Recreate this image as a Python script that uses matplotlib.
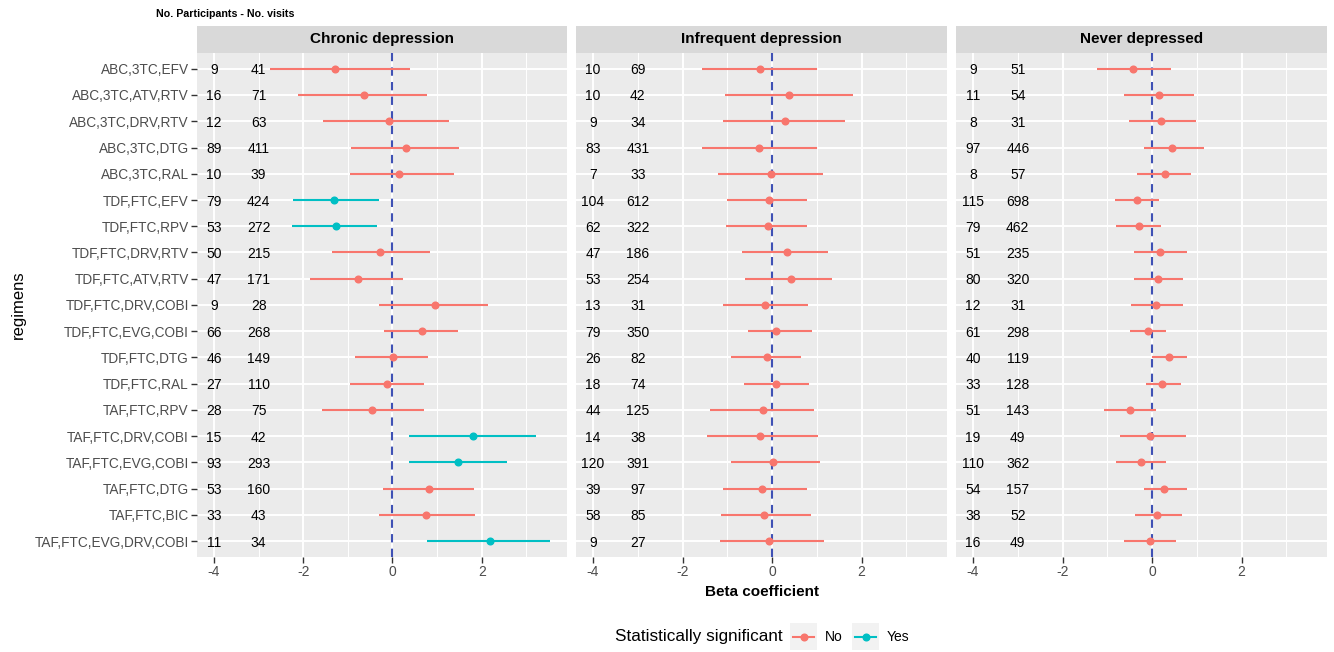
import matplotlib
matplotlib.use("Agg")
import matplotlib.pyplot as plt
from matplotlib.lines import Line2D
from matplotlib.patches import Rectangle
import numpy as np

plt.rcParams['font.family'] = ['Liberation Sans', 'DejaVu Sans']
plt.rcParams['axes.unicode_minus'] = False

regimens = ["ABC,3TC,EFV", "ABC,3TC,ATV,RTV", "ABC,3TC,DRV,RTV", "ABC,3TC,DTG",
            "ABC,3TC,RAL", "TDF,FTC,EFV", "TDF,FTC,RPV", "TDF,FTC,DRV,RTV",
            "TDF,FTC,ATV,RTV", "TDF,FTC,DRV,COBI", "TDF,FTC,EVG,COBI", "TDF,FTC,DTG",
            "TDF,FTC,RAL", "TAF,FTC,RPV", "TAF,FTC,DRV,COBI", "TAF,FTC,EVG,COBI",
            "TAF,FTC,DTG", "TAF,FTC,BIC", "TAF,FTC,EVG,DRV,COBI"]

panels = ["Chronic depression", "Infrequent depression", "Never depressed"]

# Chronic depression
chr_beta = [-1.28, -0.63, -0.07, 0.31, 0.15, -1.31, -1.26, -0.29, -0.78, 0.96,
            0.66, 0.01, -0.13, -0.47, 1.81, 1.46, 0.81, 0.76, 2.19]
chr_lo = [-2.75, -2.11, -1.55, -0.93, -0.95, -2.24, -2.25, -1.36, -1.84, -0.30,
          -0.20, -0.83, -0.96, -1.58, 0.37, 0.36, -0.22, -0.31, 0.77]
chr_hi = [0.40, 0.78, 1.27, 1.49, 1.37, -0.31, -0.34, 0.83, 0.24, 2.13,
          1.46, 0.79, 0.70, 0.70, 3.22, 2.57, 1.82, 1.85, 3.53]
chr_sig = [0, 0, 0, 0, 0, 1, 1, 0, 0, 0, 0, 0, 0, 0, 1, 1, 0, 0, 1]
chr_part = [9, 16, 12, 89, 10, 79, 53, 50, 47, 9, 66, 46, 27, 28, 15, 93, 53, 33, 11]
chr_vis = [41, 71, 63, 411, 39, 424, 272, 215, 171, 28, 268, 149, 110, 75, 42, 293, 160, 43, 34]

# Infrequent depression
inf_beta = [-0.26, 0.38, 0.29, -0.30, -0.02, -0.07, -0.09, 0.34, 0.43, -0.16,
            0.10, -0.12, 0.10, -0.20, -0.27, 0.02, -0.23, -0.18, -0.06]
inf_lo = [-1.56, -1.06, -1.10, -1.57, -1.21, -1.00, -1.03, -0.68, -0.60, -1.09,
          -0.54, -0.92, -0.63, -1.39, -1.46, -0.92, -1.10, -1.13, -1.16]
inf_hi = [1.01, 1.80, 1.63, 1.01, 1.13, 0.78, 0.79, 1.25, 1.33, 0.81,
          0.89, 0.65, 0.82, 0.94, 1.03, 1.08, 0.78, 0.87, 1.16]
inf_sig = [0] * 19
inf_part = [10, 10, 9, 83, 7, 104, 62, 47, 53, 13, 79, 26, 18, 44, 14, 120, 39, 58, 9]
inf_vis = [69, 42, 34, 431, 33, 612, 322, 186, 254, 31, 350, 82, 74, 125, 38, 391, 97, 85, 27]

# Never depressed
nev_beta = [-0.42, 0.16, 0.21, 0.44, 0.28, -0.33, -0.29, 0.18, 0.13, 0.10,
            -0.10, 0.37, 0.23, -0.49, -0.04, -0.25, 0.26, 0.11, -0.05]
nev_lo = [-1.23, -0.62, -0.51, -0.18, -0.33, -0.83, -0.81, -0.40, -0.41, -0.48,
          -0.49, -0.01, -0.14, -1.07, -0.72, -0.80, -0.18, -0.37, -0.62]
nev_hi = [0.43, 0.93, 0.99, 1.16, 0.88, 0.16, 0.20, 0.78, 0.69, 0.69,
          0.31, 0.79, 0.65, 0.09, 0.75, 0.31, 0.78, 0.67, 0.54]
nev_sig = [0] * 19
nev_part = [9, 11, 8, 97, 8, 115, 79, 51, 80, 12, 61, 40, 33, 51, 19, 110, 54, 38, 16]
nev_vis = [51, 54, 31, 446, 57, 698, 462, 235, 320, 31, 298, 119, 128, 143, 49, 362, 157, 52, 49]

x_ticks = [-4, -2, 0, 2]
x_minor = [-3, -1, 1, 3]
part_x = -4
vis_x = -3

data = [
    (chr_beta, chr_lo, chr_hi, chr_sig, chr_part, chr_vis),
    (inf_beta, inf_lo, inf_hi, inf_sig, inf_part, inf_vis),
    (nev_beta, nev_lo, nev_hi, nev_sig, nev_part, nev_vis),
]

COL_NO = "#F8766D"
COL_YES = "#00BFC4"
VLINE = "#3F51B5"
BG = "#EBEBEB"
STRIP = "#D9D9D9"

W, H = 1334, 652
fig = plt.figure(figsize=(W / 100, H / 100), dpi=100)


def box(x0, y0, x1, y1):
    return [x0 / W, 1 - y1 / H, (x1 - x0) / W, (y1 - y0) / H]


panel_x = [(197, 567), (576, 947), (956, 1327)]
ptop, pbot = 53, 557
stop = 26

n = len(regimens)
ypos = np.arange(1, n + 1)

for k, (px0, px1) in enumerate(panel_x):
    ax = fig.add_axes(box(px0, ptop, px1, pbot))
    beta, lo, hi, sig, part, vis = data[k]
    ax.set_facecolor(BG)
    ax.set_xlim(-4.38, 3.91)
    ax.set_ylim(n + 0.6, 0.4)
    for s in ax.spines.values():
        s.set_visible(False)
    ax.set_xticks(x_ticks)
    ax.set_xticks(x_minor, minor=True)
    ax.set_yticks(ypos)
    ax.grid(which='major', color='white', linewidth=1.4, zorder=0)
    ax.grid(which='minor', axis='x', color='white', linewidth=0.7, zorder=0)
    ax.set_axisbelow(True)
    ax.tick_params(axis='x', which='major', length=4, width=1, color='#333333',
                   labelsize=10, labelcolor='#4D4D4D', pad=2)
    ax.tick_params(axis='x', which='minor', length=0)
    if k == 0:
        ax.set_yticklabels(regimens)
        ax.tick_params(axis='y', length=4, width=1, color='#333333',
                       labelsize=9.8, labelcolor='#4D4D4D', pad=2)
    else:
        ax.tick_params(axis='y', length=0, labelleft=False)

    ax.axvline(0, color=VLINE, linewidth=1.5, linestyle=(0, (4, 3)), zorder=2)
    for i in range(n):
        c = COL_YES if sig[i] else COL_NO
        ax.plot([lo[i], hi[i]], [ypos[i], ypos[i]], color=c, linewidth=1.5, zorder=3,
                solid_capstyle='butt')
        ax.plot([beta[i]], [ypos[i]], 'o', color=c, markersize=4.8, zorder=4)
        ax.text(part_x, ypos[i], str(part[i]), ha='center', va='center_baseline',
                fontsize=10, color='black', zorder=5)
        ax.text(vis_x, ypos[i], str(vis[i]), ha='center', va='center_baseline',
                fontsize=10, color='black', zorder=5)

    # strip
    sax = fig.add_axes(box(px0, stop, px1, ptop))
    sax.set_facecolor(STRIP)
    sax.set_xticks([])
    sax.set_yticks([])
    for s in sax.spines.values():
        s.set_visible(False)
    sax.text(0.5, 0.5, panels[k], ha='center', va='center', fontsize=11,
             fontweight='bold', transform=sax.transAxes)

# titles / labels
fig.text(156 / W, 1 - 14 / H, "No. Participants - No. visits", ha='left', va='center',
         fontsize=7.7, fontweight='bold')
fig.text(762 / W, 1 - 592 / H, "Beta coefficient", ha='center', va='center',
         fontsize=11, fontweight='bold')
fig.text(18 / W, 1 - 305 / H, "regimens", ha='center', va='center', rotation=90,
         fontsize=12)

# legend
fig.text(615 / W, 1 - 637 / H, "Statistically significant", ha='left', va='center',
         fontsize=12.3)
leg_items = [("No", COL_NO, 790), ("Yes", COL_YES, 852)]
for lab, c, kx in leg_items:
    fig.patches.append(Rectangle((kx / W, 1 - 650 / H), 27 / W, 27 / H,
                                 transform=fig.transFigure, facecolor="#F2F2F2",
                                 edgecolor='none'))
    fig.lines.append(Line2D([(kx + 3) / W, (kx + 24) / W], [1 - 636.5 / H, 1 - 636.5 / H],
                            transform=fig.transFigure, color=c, linewidth=1.5))
    fig.lines.append(Line2D([(kx + 13.5) / W], [1 - 636.5 / H], marker='o',
                            transform=fig.transFigure, color=c, markersize=4.8))
    fig.text((kx + 35) / W, 1 - 637 / H, lab, ha='left', va='center', fontsize=10)

fig.savefig("out.png", dpi=100, facecolor='white')
